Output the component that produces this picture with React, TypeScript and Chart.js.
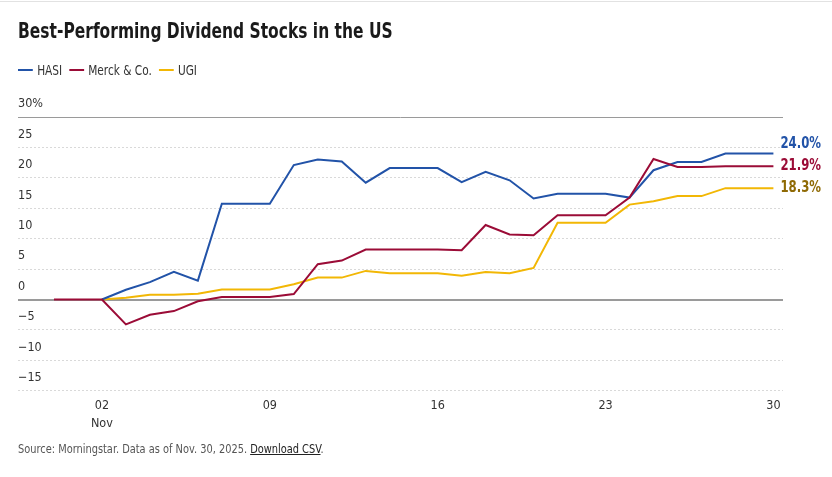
import React, { useEffect, useRef } from "react";
import { Chart, registerables } from "chart.js";

Chart.register(...registerables);

// ---- data ----
const dates = [
  "Oct 31", "Nov 01", "Nov 02", "Nov 03", "Nov 04", "Nov 05", "Nov 06", "Nov 07",
  "Nov 08", "Nov 09", "Nov 10", "Nov 11", "Nov 12", "Nov 13", "Nov 14", "Nov 15",
  "Nov 16", "Nov 17", "Nov 18", "Nov 19", "Nov 20", "Nov 21", "Nov 22", "Nov 23",
  "Nov 24", "Nov 25", "Nov 26", "Nov 27", "Nov 28", "Nov 29", "Nov 30",
];
const seriesNames = ["HASI", "Merck & Co.", "UGI"];
const hasi = [null, null, 0, 1.6, 2.85, 4.55, 3.1, 15.75, 15.75, 15.75, 22.1, 23.0, 22.7, 19.2, 21.6, 21.6, 21.6, 19.3, 21.0, 19.6, 16.6, 17.4, 17.4, 17.4, 16.75, 21.25, 22.6, 22.6, 24.0, 24.0, 24.0];
const merck = [0, 0, 0, -4.1, -2.5, -1.9, -0.3, 0.4, 0.4, 0.4, 0.9, 5.8, 6.4, 8.2, 8.2, 8.2, 8.2, 8.1, 12.25, 10.7, 10.55, 13.85, 13.85, 13.85, 16.75, 23.1, 21.8, 21.8, 21.9, 21.9, 21.9];
const ugi = [null, null, 0, 0.3, 0.8, 0.8, 0.95, 1.65, 1.65, 1.65, 2.5, 3.6, 3.6, 4.7, 4.3, 4.3, 4.3, 3.9, 4.5, 4.3, 5.2, 12.6, 12.6, 12.6, 15.6, 16.15, 17.0, 17.0, 18.3, 18.3, 18.3];
const endLabels = ["24.0%", "21.9%", "18.3%"];
const xTickIndex = [2, 9, 16, 23, 30];
const xTickLabels = ["02", "09", "16", "23", "30"];
const monthLabel = "Nov";
const yMin = -15;
const yMax = 30;
const yStep = 5;

const lineColors = ["#2253a8", "#9b0c37", "#f2b705"];
const labelColors = ["#2253a8", "#9b0c37", "#8f6a05"];

const FONT = '"Liberation Sans Narrow", "DejaVu Sans Condensed", "Roboto Condensed", "Arial Narrow", sans-serif';

const endLabelPlugin = {
  id: "endLabels",
  afterDatasetsDraw(chart: any) {
    const ctx = chart.ctx;
    const items: { y: number; x: number; i: number }[] = [];
    chart.data.datasets.forEach((ds: any, i: number) => {
      const meta = chart.getDatasetMeta(i);
      const pt = meta.data[meta.data.length - 1];
      if (pt) items.push({ x: pt.x, y: pt.y, i });
    });
    items.sort((a, b) => b.y - a.y);
    for (let k = 1; k < items.length; k++) {
      if (items[k].y > items[k - 1].y - 22) items[k].y = items[k - 1].y - 22;
    }
    const sx = 0.84;
    ctx.save();
    ctx.font = `bold 15.5px ${FONT}`;
    ctx.textAlign = "left";
    ctx.textBaseline = "middle";
    ctx.scale(sx, 1);
    items.forEach((it) => {
      ctx.fillStyle = labelColors[it.i];
      ctx.fillText(endLabels[it.i], (it.x + 7) / sx, it.y);
    });
    ctx.restore();
  },
};

function ChartCanvas() {
  const ref = useRef<HTMLCanvasElement | null>(null);
  useEffect(() => {
    if (!ref.current) return;
    const series = [hasi, merck, ugi];
    const chart = new Chart(ref.current, {
      type: "line",
      data: {
        datasets: series.map((vals, i) => ({
          label: seriesNames[i],
          data: vals.map((v, j) => ({ x: j, y: v })),
          borderColor: lineColors[i],
          backgroundColor: lineColors[i],
          borderWidth: 2,
          pointRadius: 0,
          tension: 0,
          order: i === 1 ? 0 : i === 0 ? 1 : 2,
        })) as any,
      },
      options: {
        animation: false,
        responsive: true,
        maintainAspectRatio: false,
        layout: { padding: { left: 18, right: 49, top: 117, bottom: 38 } },
        plugins: { legend: { display: false }, tooltip: { enabled: false } },
        scales: {
          x: {
            type: "linear",
            min: -1.5,
            max: 30.4,
            afterBuildTicks: (axis: any) => {
              axis.ticks = xTickIndex.map((v) => ({ value: v }));
            },
            grid: { display: false, drawTicks: false },
            border: { display: false },
            ticks: {
              padding: 6,
              color: "#333",
              font: { family: FONT, size: 12.5, lineHeight: 1.45 },
              maxRotation: 0,
              autoSkip: false,
              callback: (v: any) => {
                const k = xTickIndex.indexOf(Number(v));
                if (k < 0) return "";
                return k === 0 ? [xTickLabels[k], monthLabel] : xTickLabels[k];
              },
            },
          },
          y: {
            min: yMin,
            max: yMax,
            grid: {
              drawTicks: false,
              color: (c: any) => {
                const v = c.tick ? c.tick.value : null;
                return v === 0 || v === yMax ? "#9a9a9a" : "#d9d9d9";
              },
              lineWidth: (c: any) => {
                const v = c.tick ? c.tick.value : null;
                return v === 0 ? 2 : 1;
              },
            },
            border: {
              display: false,
              dash: (c: any) => {
                const v = c.tick ? c.tick.value : null;
                return v === 0 || v === yMax ? [] : [2, 2];
              },
            } as any,
            ticks: {
              stepSize: yStep,
              mirror: true,
              padding: 0,
              labelOffset: -13,
              color: "#333",
              font: { family: FONT, size: 12.5 },
              callback: (v: any) => {
                const n = Number(v);
                if (n === yMax) return `${n}%`;
                return n < 0 ? `\u2212${Math.abs(n)}` : `${n}`;
              },
            },
          },
        },
      },
      plugins: [endLabelPlugin],
    });
    return () => chart.destroy();
  }, []);
  return <canvas ref={ref} />;
}

export default function App() {
  return (
    <div style={{ position: "fixed", inset: 0, background: "#fff", fontFamily: FONT, overflow: "hidden" }}>
      <div style={{ position: "absolute", left: 0, right: 0, top: 1, height: 1, background: "#e2e2e2" }} />
      <div style={{ position: "absolute", inset: 0 }}>
        <ChartCanvas />
      </div>
      <div
        style={{
          position: "absolute", left: 18, top: 19, fontSize: 20.5, lineHeight: "24px",
          fontWeight: 700, color: "#1a1a1a", whiteSpace: "nowrap",
          transform: "scaleX(0.84)", transformOrigin: "left center",
        }}
      >
        Best-Performing Dividend Stocks in the US
      </div>
      <div
        style={{
          position: "absolute", left: 18, top: 61, display: "flex", alignItems: "center",
          fontSize: 13.5, lineHeight: "18px", color: "#333",
          transform: "scaleX(0.87)", transformOrigin: "left center",
        }}
      >
        {seriesNames.map((n, i) => (
          <div key={n} style={{ display: "flex", alignItems: "center", marginRight: 8 }}>
            <span style={{ display: "inline-block", width: 17, height: 2, background: lineColors[i], marginRight: 5 }} />
            <span>{n}</span>
          </div>
        ))}
      </div>
      <div
        style={{
          position: "absolute", left: 18, top: 440, fontSize: 13, lineHeight: "18px", color: "#555",
          whiteSpace: "nowrap", transform: "scaleX(0.84)", transformOrigin: "left center",
        }}
      >
        Source: Morningstar. Data as of Nov. 30, 2025.{" "}
        <span style={{ textDecoration: "underline", color: "#222" }}>Download CSV</span>.
      </div>
    </div>
  );
}
